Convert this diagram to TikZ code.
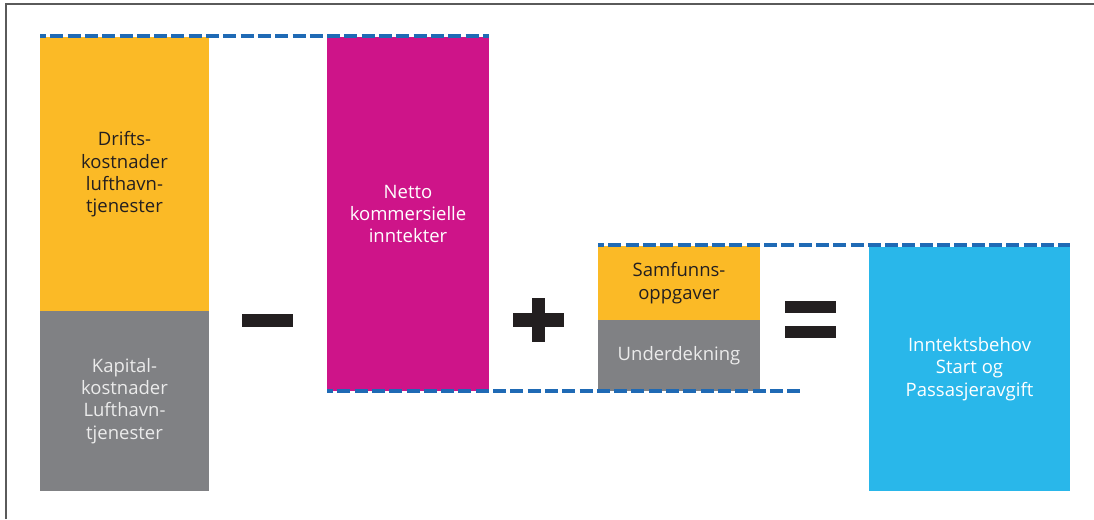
\documentclass[tikz,border=0pt]{standalone}
\usepackage{fontspec}
\setmainfont{Open Sans}
\definecolor{cyellow}{RGB}{251,186,38}
\definecolor{cgray}{RGB}{128,129,132}
\definecolor{cmag}{RGB}{206,20,137}
\definecolor{cblue}{RGB}{41,183,234}
\definecolor{cdash}{RGB}{31,106,181}
\definecolor{cblack}{RGB}{35,31,32}
\definecolor{ctextgray}{RGB}{235,235,235}
\definecolor{cframe}{RGB}{90,90,90}
\tikzset{
  block/.style={inner sep=0pt, outer sep=0pt, align=center,
    font=\fontsize{18.5}{22.3}\selectfont},
  darktext/.style={text=cblack},
  lighttext/.style={text=ctextgray},
  whitetext/.style={text=white},
  opbar/.style={fill=cblack, inner sep=0pt, outer sep=0pt},
  dashline/.style={draw=cdash, line width=4.6pt, dash pattern=on 13pt off 4.3pt, dash phase=7pt}
}
\begin{document}
\begin{tikzpicture}[x=1pt,y=-1pt]
\useasboundingbox (0,0) rectangle (1094,519);
% frame
\draw[cframe, line width=1.5pt] (6,519) -- (6,4) -- (1094,4);
% blocks
\node[block, darktext, fill=cyellow, minimum width=169pt, minimum height=275pt] (drifts) at (124.5,174.5)
  {Drifts-\\kostnader\\lufthavn-\\tjenester};
\node[block, lighttext, fill=cgray, minimum width=169pt, minimum height=180pt] (kapital) at (124.5,401)
  {Kapital-\\kostnader\\Lufthavn-\\tjenester};
\node[block, whitetext, fill=cmag, minimum width=162pt, minimum height=354pt] (netto) at (408,214)
  {Netto\\kommersielle\\inntekter};
\node[block, darktext, fill=cyellow, minimum width=162pt, minimum height=74pt] (samf) at (679,283)
  {Samfunns-\\oppgaver};
\node[block, lighttext, fill=cgray, minimum width=162pt, minimum height=71pt] (under) at (679,355.5)
  {Underdekning};
\node[block, whitetext, fill=cblue, minimum width=201pt, minimum height=244pt] (behov) at (969.5,369)
  {Inntektsbehov\\Start og\\Passasjeravgift};
% operators
\node[opbar, minimum width=51pt, minimum height=13pt] (minus) at (267.5,320.5) {};
\node[opbar, minimum width=51pt, minimum height=14pt] (plush) at (538.5,320) {};
\node[opbar, minimum width=13pt, minimum height=44pt] (plusv) at (538.5,320) {};
\node[opbar, minimum width=51pt, minimum height=12pt] (eqtop) at (810.5,307) {};
\node[opbar, minimum width=51pt, minimum height=12pt] (eqbot) at (810.5,332) {};
% dashed reference lines
\coordinate (topstart) at (40,36);
\coordinate (topend) at (489,36);
\coordinate (midstart) at (598,245);
\coordinate (midend) at (1070,245);
\coordinate (botstart) at (327,391);
\coordinate (botend) at (801,391);
\draw[dashline] (topstart) -- (topend);
\draw[dashline] (midstart) -- (midend);
\draw[dashline] (botstart) -- (botend);
\end{tikzpicture}
\end{document}
